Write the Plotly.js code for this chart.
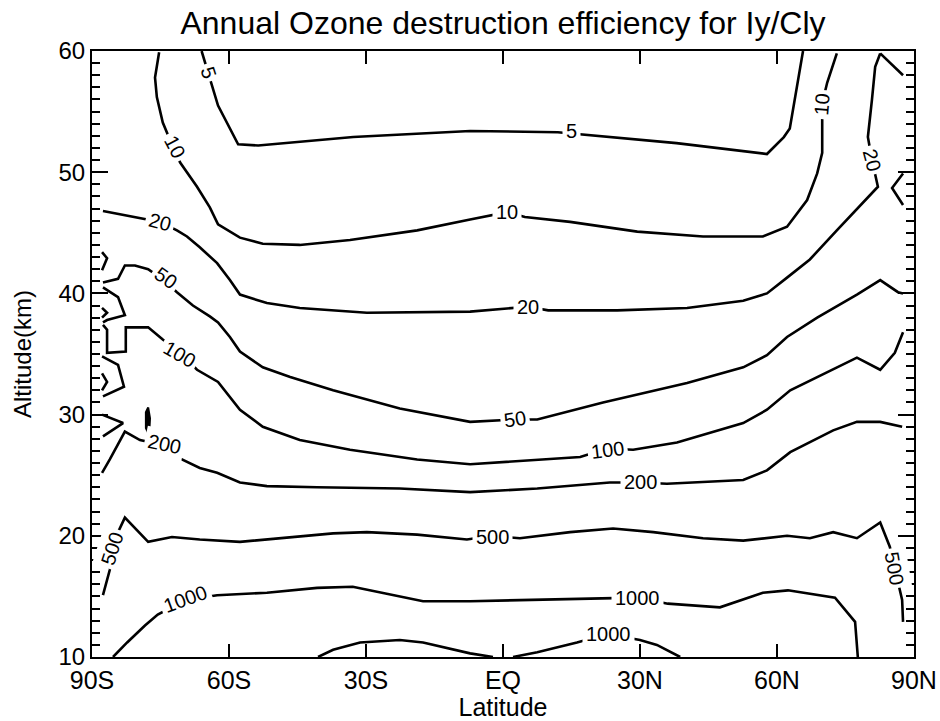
<!DOCTYPE html>
<html>
<head>
<meta charset="utf-8">
<script src="https://cdn.plot.ly/plotly-3.0.1.min.js"></script>
<style>html,body{margin:0;padding:0;background:#fff;}#chart{width:940px;height:721px;}</style>
</head>
<body>
<div id="chart"></div>
<script>
// Contour levels and their traced paths (latitude in degrees, altitude in km)
const levels = [5, 10, 20, 50, 100, 200, 500, 1000];

const c5Lat = [-66.0, -63.7, -62.4, -58.0, -53.6, -32.8, -7.2, 12.0, 38.0, 57.8, 61.5, 62.8, 65.7];
const c5Alt = [60.0, 57.1, 55.5, 52.3, 52.2, 52.9, 53.4, 53.3, 52.4, 51.5, 52.9, 53.6, 60.0];

const c10Lat = [-75.3, -76.2, -75.8, -74.5, -72.3, -70.7, -67.0, -64.2, -62.4, -57.6, -52.6, -44.5, -33.5, -18.8, -7.2, 0.9, 4.8, 14.7, 29.4, 43.8, 56.9, 62.2, 66.6, 68.8, 69.9, 69.9, 69.9, 71.0, 72.1, 73.1];
const c10Alt = [59.9, 57.8, 56.2, 54.1, 52.1, 50.8, 48.8, 47.1, 45.7, 44.6, 44.1, 44.0, 44.4, 45.2, 46.1, 46.7, 46.3, 45.9, 45.1, 44.7, 44.7, 45.5, 47.7, 49.9, 51.6, 54.1, 55.7, 57.4, 58.7, 59.8];

const c20Lat = [-87.6, -79.5, -75.1, -71.4, -69.2, -66.4, -62.6, -59.8, -57.6, -51.7, -44.5, -29.8, -7.2, 5.5, 9.9, 25.0, 40.3, 52.6, 57.8, 62.2, 67.2, 73.1, 75.3, 82.1, 80.8, 79.9, 80.8, 81.5, 82.6];
const c20Alt = [46.8, 46.2, 45.9, 45.2, 44.7, 43.8, 42.5, 41.1, 39.9, 39.2, 38.8, 38.4, 38.5, 38.9, 38.6, 38.6, 38.8, 39.4, 40.0, 41.3, 42.8, 45.2, 46.1, 48.8, 51.0, 52.9, 56.0, 58.7, 59.8];

const c50Lat = [-87.6, -84.3, -82.8, -80.6, -77.7, -74.0, -71.4, -67.9, -64.2, -62.4, -59.8, -57.6, -52.6, -46.6, -37.2, -22.6, -7.2, 2.6, 7.5, 21.9, 40.3, 52.6, 57.8, 62.2, 68.8, 77.5, 82.6, 86.5, 87.6];
const c50Alt = [40.9, 41.2, 42.3, 42.3, 42.0, 41.0, 40.1, 39.0, 38.1, 37.6, 36.4, 35.2, 33.9, 33.1, 32.0, 30.5, 29.4, 29.6, 29.6, 31.0, 32.6, 33.9, 34.9, 36.4, 38.0, 39.9, 41.1, 40.1, 40.0];

const c100Lat = [-87.6, -86.7, -86.7, -82.6, -82.6, -77.7, -74.5, -70.7, -67.0, -62.4, -57.6, -52.6, -44.5, -33.5, -18.8, -7.2, 16.9, 22.8, 28.5, 38.1, 52.6, 57.8, 62.9, 68.8, 77.5, 82.6, 85.8, 87.6];
const c100Alt = [37.4, 37.0, 35.1, 35.2, 37.2, 37.2, 36.2, 35.1, 33.7, 32.7, 30.4, 29.0, 27.9, 27.1, 26.3, 25.9, 26.5, 27.2, 27.1, 27.7, 29.3, 30.4, 32.0, 33.1, 34.7, 33.7, 35.1, 36.8];

const c200Lat = [-87.8, -86.1, -82.8, -79.5, -74.5, -70.3, -66.4, -62.6, -57.6, -51.7, -40.7, -22.6, -7.2, 7.5, 23.4, 30.0, 35.9, 52.6, 57.8, 62.9, 72.3, 77.5, 82.6, 87.4];
const c200Alt = [25.2, 26.3, 28.6, 27.9, 27.5, 26.3, 25.6, 25.2, 24.4, 24.1, 24.0, 23.9, 23.6, 23.9, 24.4, 24.4, 24.3, 24.6, 25.4, 26.9, 28.7, 29.4, 29.4, 29.0];

const c500Lat = [-87.6, -86.1, -85.4, -84.3, -82.8, -77.7, -72.5, -66.4, -57.6, -48.2, -37.2, -29.8, -18.8, -7.9, -2.4, 3.7, 14.7, 24.1, 32.9, 43.8, 52.6, 62.2, 67.2, 72.3, 77.5, 82.6, 84.7, 85.8, 87.4, 87.6];
const c500Alt = [15.1, 17.2, 19.0, 20.3, 21.5, 19.5, 19.9, 19.7, 19.5, 19.8, 20.2, 20.3, 20.1, 19.7, 20.0, 19.8, 20.3, 20.6, 20.3, 19.8, 19.6, 20.0, 19.8, 20.3, 19.8, 21.1, 19.1, 17.3, 14.7, 12.9];

const c1000Lat = [-85.4, -82.3, -78.4, -75.6, -69.6, -62.6, -51.7, -40.7, -32.9, -22.6, -17.5, -7.2, 14.7, 29.4, 36.1, 47.5, 56.9, 62.4, 72.7, 77.1, 77.7];
const c1000Alt = [10.0, 11.2, 12.6, 13.5, 14.7, 15.1, 15.3, 15.7, 15.8, 15.0, 14.6, 14.6, 14.8, 14.9, 14.4, 14.1, 15.3, 15.5, 14.9, 12.9, 10.0];

const c1000bLat = [-40.5, -37.2, -31.3, -22.6, -17.5, -7.2, -2.2];
const c1000bAlt = [10.0, 10.6, 11.2, 11.4, 11.2, 10.3, 10.0];
const c1000cLat = [2.2, 7.5, 16.2, 22.8, 30.0, 33.7, 38.8];
const c1000cAlt = [10.0, 10.4, 11.2, 11.9, 11.4, 11.0, 10.0];

// Small polar fragments of the contours
const polarLat = [
  [-87.8, -86.7, -87.8],
  [-87.6, -84.3, -82.8, -86.7, -87.6],
  [-87.8, -86.7, -87.8],
  [-87.8, -84.3, -83.0, -87.6],
  [-87.8, -86.7, -87.8],
  [-87.8, -83.2, -87.6],
  [82.6, 87.6],
  [87.6, 85.2, 87.6]
];
const polarAlt = [
  [43.4, 42.9, 41.9],
  [40.5, 39.7, 38.2, 37.8, 37.6],
  [38.8, 38.4, 38.0],
  [34.8, 34.1, 32.3, 31.5],
  [33.4, 32.7, 32.0],
  [30.0, 29.3, 28.2],
  [59.8, 58.0],
  [49.9, 48.7, 47.3]
];
// Small closed contour near 78S, 29-31 km
const blobLat = [-77.7, -77.3, -77.5, -78.2, -78.2, -77.7];
const blobAlt = [30.6, 29.7, 28.3, 28.9, 30.2, 30.6];

// Contour labels
const labelText = ["5", "10", "20", "50", "100", "200", "500", "1000",
                   "5", "10", "20", "50", "100", "200", "500", "1000", "1000",
                   "10", "20", "500"];
const labelLat = [-64.4, -71.8, -75.1, -73.8, -70.9, -74.2, -85.6, -69.6,
                  15.1, 0.9, 5.5, 2.6, 22.8, 30.0, -2.4, 29.4, 23.0,
                  69.9, 80.8, 85.8];
const labelAlt = [58.2, 52.1, 45.9, 41.3, 35.0, 27.6, 18.9, 14.8,
                  53.4, 46.7, 38.9, 29.6, 27.1, 24.4, 19.9, 14.9, 11.9,
                  55.6, 51.0, 17.3];
const labelAngle = [72, 62, 15, 35, 30, 12, -72, -20,
                    0, 0, 0, -8, -7, 0, 0, 0, 0,
                    -85, 75, 80];

const xTickVals = [-90, -60, -30, 0, 30, 60, 90];
const xTickText = ["90S", "60S", "30S", "EQ", "30N", "60N", "90N"];

const lineStyle = {color: "#000", width: 2.6};
const paths = [
  [c5Lat, c5Alt], [c10Lat, c10Alt], [c20Lat, c20Alt], [c50Lat, c50Alt],
  [c100Lat, c100Alt], [c200Lat, c200Alt], [c500Lat, c500Alt], [c1000Lat, c1000Alt],
  [c1000bLat, c1000bAlt], [c1000cLat, c1000cAlt]
];
const traces = paths.map(p => ({x: p[0], y: p[1], type: "scatter", mode: "lines", line: lineStyle, hoverinfo: "skip", showlegend: false}));
polarLat.forEach((lx, i) => traces.push({x: lx, y: polarAlt[i], type: "scatter", mode: "lines", line: lineStyle, hoverinfo: "skip", showlegend: false}));
traces.push({x: blobLat, y: blobAlt, type: "scatter", mode: "lines", fill: "toself", fillcolor: "#000", line: {color: "#000", width: 2}, hoverinfo: "skip", showlegend: false});

const font = "Liberation Sans, Arial, Helvetica, sans-serif";
const annotations = labelText.map((t, i) => ({
  x: labelLat[i], y: labelAlt[i], xref: "x", yref: "y", text: t, showarrow: false,
  textangle: labelAngle[i], bgcolor: "#fff", borderpad: 3,
  font: {family: font, size: 20, color: "#000"}
}));

const layout = {
  width: 940, height: 721,
  margin: {l: 92, r: 26, t: 51, b: 64, pad: 0},
  paper_bgcolor: "#fff", plot_bgcolor: "#fff",
  font: {family: font, color: "#000"},
  title: {text: "Annual Ozone destruction efficiency for Iy/Cly", font: {family: font, size: 32, color: "#000"},
          x: 0.5, xref: "paper", xanchor: "center", y: 0.984, yref: "container", yanchor: "top", pad: {t: 0, b: 0}},
  xaxis: {
    range: [-90, 90], tickmode: "array", tickvals: xTickVals, ticktext: xTickText,
    ticks: "inside", ticklen: 13, tickwidth: 2, tickcolor: "#000",
    showline: true, linewidth: 2, linecolor: "#000", mirror: "ticks",
    showgrid: false, zeroline: false, automargin: false,
    tickfont: {family: font, size: 25, color: "#000"},
    title: {text: "Latitude", font: {family: font, size: 25, color: "#000"}, standoff: 6}
  },
  yaxis: {
    range: [10, 60], dtick: 10, tick0: 0,
    ticks: "inside", ticklen: 16, tickwidth: 2, tickcolor: "#000",
    minor: {dtick: 1, ticks: "inside", ticklen: 8, tickwidth: 2, tickcolor: "#000", showgrid: false},
    showline: true, linewidth: 2, linecolor: "#000", mirror: "ticks",
    showgrid: false, zeroline: false, automargin: false,
    tickfont: {family: font, size: 24, color: "#000"},
    title: {text: "Altitude(km)", font: {family: font, size: 24, color: "#000"}, standoff: 20}
  },
  annotations: annotations
};

Plotly.newPlot("chart", traces, layout, {staticPlot: true, displayModeBar: false});
</script>
</body>
</html>
